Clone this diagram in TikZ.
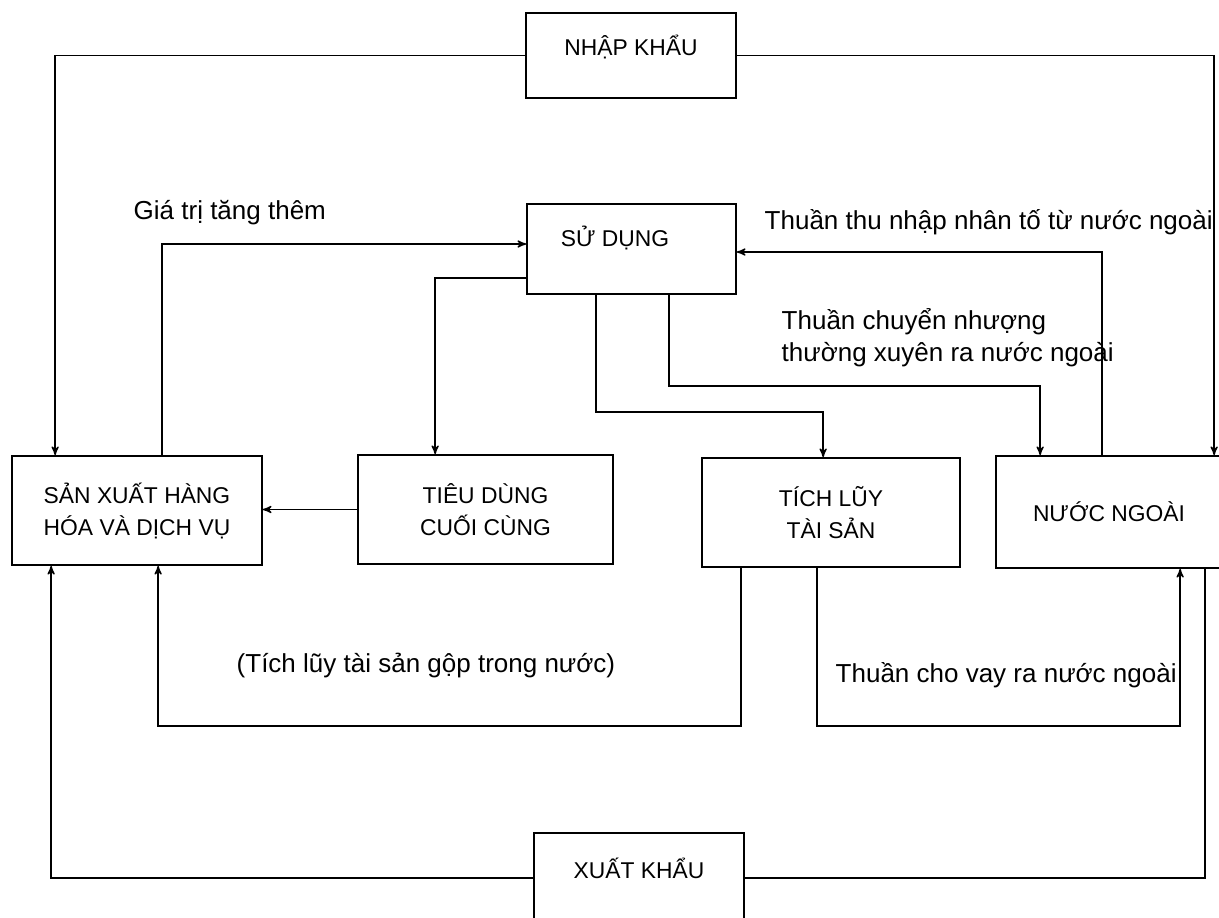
\documentclass[tikz,border=0pt]{standalone}
\usepackage{fontspec}
\setmainfont{Liberation Sans}
\usetikzlibrary{arrows, positioning, calc}

\begin{document}
\begin{tikzpicture}[x=0.02cm,y=-0.02cm,>=stealth',line width=0.8pt,
		main node/.style={rectangle,draw,line width=1pt,align=center,
			font=\fontsize{13}{18.2}\selectfont},
		side label/.style={align=left,inner sep=0pt,
			font=\fontsize{14.8}{18.2}\selectfont}]
	\useasboundingbox (0,0) rectangle (1219,917);
	
	\node[main node, minimum width=4.2cm, minimum height=1.7cm,
		label={[main node, draw=none, yshift=0.17cm]center:NHẬP KHẨU}] (import) at (631,55.5) {};
	\node[main node, minimum width=4.18cm, minimum height=1.8cm,
		label={[main node, draw=none, xshift=-0.33cm, yshift=0.22cm]center:SỬ DỤNG}] (use) at (631.5,249) {};
	\node[main node, minimum width=5cm, minimum height=2.18cm] (prod) at (137,510.5) {SẢN XUẤT HÀNG\\HÓA VÀ DỊCH VỤ};
	\node[main node, minimum width=5.1cm, minimum height=2.18cm] (cons) at (485.5,509.5) {TIÊU DÙNG\\CUỐI CÙNG};
	\node[main node, minimum width=5.16cm, minimum height=2.18cm] (accum) at (831,512.5) {TÍCH LŨY\\TÀI SẢN};
	\node[main node, minimum width=4.52cm, minimum height=2.24cm] (abroad) at (1109,512) {NƯỚC NGOÀI};
	\node[main node, minimum width=4.2cm, minimum height=1.8cm,
		label={[main node, draw=none, yshift=0.2cm]center:XUẤT KHẨU}] (export) at (639,878) {};
	
	% labels
	\node[side label, anchor=west] (added) at (133,213) {Giá trị tăng thêm};
	\node[side label, anchor=west] (income) at (764,222) {Thuần thu nhập nhân tố từ nước ngoài};
	\node[side label, anchor=west] (transfer) at (781,338) {Thuần chuyển nhượng\\thường xuyên ra nước ngoài};
	\node[side label, anchor=west] (gross) at (236,665) {(Tích lũy tài sản gộp trong nước)};
	\node[side label, anchor=west] (lending) at (835,675) {Thuần cho vay ra nước ngoài};
	
	% flows
	\draw[->] (import.west) -| ($(prod.north west)+(44,0)$);
	\draw[->] (import.east) -| ($(abroad.north west)+(219,0)$);
	\draw[->] ($(prod.north west)+(151,0)$) |- ($(use.west)+(0,-5)$);
	\draw[->] ($(use.west)+(0,29)$) -| ($(cons.north west)+(78,0)$);
	\draw[->] ($(use.south west)+(70,0)$) -- ++(0,117) -| ($(accum.north west)+(122,0)$);
	\draw[->] ($(use.south west)+(143,0)$) -- ++(0,91) -| ($(abroad.north west)+(45,0)$);
	\draw[->] ($(abroad.north west)+(107,0)$) |- ($(use.east)+(0,3)$);
	\draw[->] (cons.west) -- (cons.west -| prod.east);
	\draw[->] ($(accum.south west)+(40,0)$) -- ++(0,158) -| ($(prod.south west)+(147,0)$);
	\draw[->] ($(accum.south west)+(116,0)$) -- ++(0,158) -| ($(abroad.south west)+(185,0)$);
	\draw[->] (export.west) -| ($(prod.south west)+(40,0)$);
	\draw (export.east) -| ($(abroad.south west)+(210,0)$);
	
\end{tikzpicture}
\end{document}
